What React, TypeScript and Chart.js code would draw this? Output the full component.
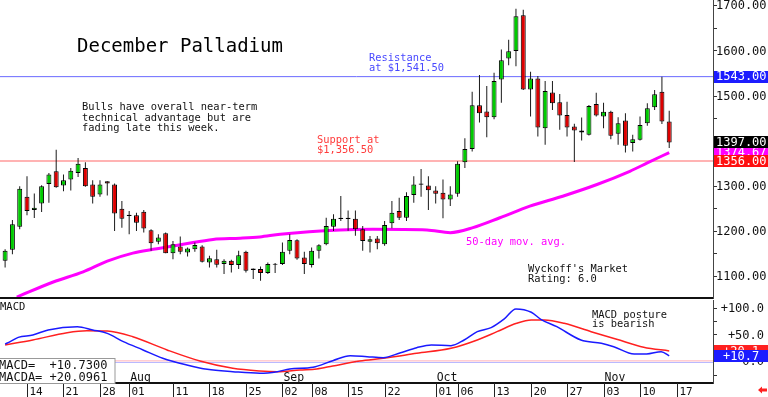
import React, { useEffect, useRef } from 'react';
import { Chart, registerables } from 'chart.js';
Chart.register(...registerables);

// ---- Daily OHLC, December Palladium (Jul 9 .. Nov 14) ----
const opens = [1134.5,1158.8,1210.3,1276.4,1247,1261.7,1305.1,1333,1301.4,1314.7,1329.4,1340.4,1303.6,1281.6,1311,1303.6,1250,1236.8,1235.3,1243.4,1202.2,1176.5,1195.6,1151.5,1166.2,1152.9,1160.3,1166.2,1130.9,1138.2,1127.2,1134.6,1125,1154.4,1113.9,1116.2,1107.3,1126,1127.2,1156.6,1180.1,1141.9,1125,1156.6,1171.3,1210.3,1230,1230,1228,1204.4,1176.5,1183.8,1171.4,1217.7,1244.9,1230.2,1280.2,1306,1301.5,1290.5,1285.3,1270.6,1283.1,1353,1382.4,1479.4,1465.5,1453,1536.8,1583.1,1600,1679.4,1514.7,1539,1428.7,1508.1,1486.1,1458.1,1432.4,1423.6,1414,1482.4,1454.4,1465.4,1416.2,1445.6,1395.6,1402.9,1439.7,1475,1509.5,1443.4];
const highs = [1160.3,1225,1300,1322,1283.8,1302.2,1329.4,1380.8,1325.7,1340.4,1362.5,1352.9,1313.2,1313.2,1311,1305.8,1266.9,1244.8,1241.2,1247.1,1204.4,1193.4,1197.1,1178.7,1188.2,1164,1175,1169.1,1145.6,1158.8,1138.2,1136.8,1156.6,1156.6,1117.6,1122,1130.9,1129.4,1175,1193.4,1182.3,1154.4,1163.9,1171.3,1230.1,1237.5,1278,1246,1246,1211.8,1189.8,1189.8,1222.8,1266.9,1274.3,1286.8,1322.1,1338.3,1322.1,1300,1314.8,1300,1355.2,1406.6,1509.6,1546.4,1522.1,1551.5,1603,1625,1693.4,1691.2,1553.7,1544.2,1533.1,1533.1,1504.4,1487.5,1438.3,1452.2,1480.2,1507.4,1485.3,1467.6,1452.9,1461.8,1414,1454.4,1483.8,1513.2,1542.6,1467.6];
const lows = [1119.8,1149.2,1204.4,1235.3,1229.4,1242.6,1263.2,1296.3,1288.9,1290.4,1320.5,1298.5,1261.7,1276.4,1279.4,1200.7,1208.1,1193.4,1200.7,1197.1,1156.6,1171.3,1151.5,1138.2,1149.3,1144.1,1154.4,1130.9,1119.8,1119.8,1105.1,1108.8,1116.2,1108.8,1094.1,1090.4,1105.1,1107.3,1125,1149.2,1136.7,1105.1,1119.8,1139.7,1169.1,1200.7,1223,1201,1190,1156.7,1153,1160.3,1167.7,1206.6,1225,1222.8,1263.3,1276.5,1247.1,1261.8,1228.7,1255.9,1276.5,1340.5,1377.2,1441.2,1408.8,1448.6,1485.3,1568.4,1566.2,1513.3,1454.4,1410.3,1391.9,1469.2,1425,1410.3,1353.7,1401.5,1412.5,1454.4,1428.7,1404.4,1391.9,1375,1377.2,1401.5,1433.8,1469.1,1438.2,1384.5];
const closes = [1156.6,1215.4,1294.1,1244.8,1252.2,1300,1325.7,1297.8,1313.2,1334.5,1350,1300,1276.4,1303.6,1305.8,1239.7,1227.9,1233.8,1219.1,1205.9,1173.5,1186,1151.5,1171.3,1154.4,1161.8,1169.8,1132.3,1140.4,1125.7,1134.6,1125,1147,1112.5,1117.6,1107.3,1127.2,1128,1154.4,1180.9,1139.7,1127.2,1156.6,1169.1,1211.7,1227.9,1227,1227,1204.4,1178.7,1182.4,1173.6,1214,1241.2,1230.2,1278,1303.7,1303,1291.2,1283.1,1270.6,1281.6,1350,1382.4,1479.4,1461.8,1453,1533.1,1579.4,1599.3,1677.2,1514.7,1539,1430.2,1511.1,1483.9,1456.7,1430.2,1423.6,1419.2,1478,1456.7,1465.4,1411.8,1439.7,1389.7,1404.4,1436,1472.8,1503.7,1443.4,1397];

// ---- 50-day moving average (trading-day index, value) ----
const maIdx = [1.6,6.6,10.7,14.0,17.5,20.3,24.4,28.5,32.2,34.9,37.7,45.9,50.4,57.8,61.0,64.1,67.8,71.9,76.4,81.1,85.6,88.0,91];
const maVal = [1054,1087.5,1110,1133.8,1151.5,1160,1171,1182,1184.5,1187.4,1193.4,1203,1204.4,1203,1197,1208,1230,1255.8,1277.8,1303.7,1333,1351.5,1374.67];

// ---- MACD (blue) and MACD average (red) ----
const macdIdx = [0,0.7,1.8,3.8,5.9,9.9,12,14,16.2,18.9,21.6,24.9,27.7,31.2,34.9,37.3,39,42.2,44.9,47.3,49.6,51.8,54.2,56.4,58.4,61.1,62.9,64.7,66.6,68.4,70,72.1,73.4,75.6,78.9,81.7,83.4,86.2,87.9,89.9,91];
const macdVal = [33,37.5,45.6,50,59.4,65.5,59.4,53,37.5,22,6.4,-6.2,-14.3,-18.7,-21.7,-18.7,-13.7,-10.5,1.9,11.2,9.4,7.5,16.9,26.2,31.3,30,40.6,56.2,63.7,80,98.7,92.5,79.4,65.5,40.6,34.5,28.1,14.4,14.4,18.7,10.73];
const sigIdx = [0,3.8,8.5,11.2,14,17.5,22.2,26.7,31.2,34.9,37.3,40.4,42.7,44.9,48.6,51.8,56.4,61.1,64.7,67.4,70.1,72.1,73.9,76.6,80.3,83.8,87.5,91];
const sigVal = [31.3,40.6,54.3,58,57.5,46.8,22,1.3,-12.4,-17.4,-18.7,-15.5,-13.7,-8,1.3,6.4,15.7,25,40.6,56.2,71.9,78,78,71.9,56.2,41.9,27,20.1];

// ---- axes / labels ----
const priceTicks = [1100,1200,1300,1400,1500,1600,1700];
const macdTicks = [100,50,0];
const macdTickLabels = ['+100.0','+50.0','0.0'];
const dateIdx = [3,8,13,17,23,28,33,38,42,47,52,59,62,67,72,77,82,87,92];
const dateLabels = ['14','21','28','01','11','18','25','02','08','15','22','01','06','13','20','27','03','10','17'];
const monthIdx = [17,38,59,82];
const monthLabels = ['Aug','Sep','Oct','Nov'];

const resistance = 1543;
const support = 1356;
const lastClose = 1397;
const lastMA = 1374.67;
const lastMacd = 10.73;
const lastSignal = 20.0961;
const zeroLines = [1.5, -1.5];

const X_MIN = -0.7;
const X_MAX = 97;
const MONO = '"DejaVu Sans Mono", monospace';
const AXIS_W = 55;

function valueBox(ctx: CanvasRenderingContext2D, ca: any, y: number, color: string, text: string, W: number) {
  ctx.fillStyle = color;
  ctx.fillRect(ca.right + 1, Math.round(y - 6), W - ca.right - 1, 12);
  ctx.fillStyle = '#fff';
  ctx.font = '12px ' + MONO;
  ctx.textBaseline = 'middle';
  ctx.textAlign = 'left';
  ctx.fillText(text, ca.right + 3, y + 0.5);
}

export default function App() {
  const refA = useRef<HTMLCanvasElement>(null);
  const refB = useRef<HTMLCanvasElement>(null);

  useEffect(() => {
    const bodies = opens.map((o, i) => ({ x: i, y: [o, closes[i]] }));
    const wicks = lows.map((l, i) => ({ x: i, y: [l, highs[i]] }));
    const bodyColors = opens.map((o, i) => (closes[i] >= o ? '#00cc00' : '#dd0000'));
    const ma = maIdx.map((x, i) => ({ x, y: maVal[i] }));

    const mainPlugin = {
      id: 'mainDecor',
      afterDraw(chart: any) {
        const ctx = chart.ctx as CanvasRenderingContext2D;
        const ca = chart.chartArea;
        const ys = chart.scales.y;
        const W = chart.width;
        ctx.save();
        // bottom border
        ctx.strokeStyle = '#111';
        ctx.lineWidth = 2;
        ctx.beginPath();
        ctx.moveTo(0, ca.bottom);
        ctx.lineTo(ca.right, ca.bottom);
        ctx.stroke();
        // price labels
        ctx.fillStyle = '#111';
        ctx.font = '12px ' + MONO;
        ctx.textAlign = 'left';
        ctx.textBaseline = 'middle';
        priceTicks.forEach((v) => ctx.fillText(v.toFixed(2), ca.right + 3, ys.getPixelForValue(v) + 0.5));
        // value boxes
        valueBox(ctx, ca, ys.getPixelForValue(resistance), '#1c1cff', resistance.toFixed(2), W);
        valueBox(ctx, ca, ys.getPixelForValue(lastMA), '#ff00ff', lastMA.toFixed(2), W);
        valueBox(ctx, ca, ys.getPixelForValue(lastClose), '#000000', lastClose.toFixed(2), W);
        valueBox(ctx, ca, ys.getPixelForValue(support), '#ff1010', support.toFixed(2), W);
        // title
        ctx.textBaseline = 'alphabetic';
        ctx.fillStyle = '#000';
        ctx.font = '19px ' + MONO;
        ctx.fillText('December Palladium', 77, 52);
        // notes
        ctx.font = '10.4px ' + MONO;
        ctx.fillStyle = '#111';
        ctx.fillText('Bulls have overall near-term', 82, 110);
        ctx.fillText('technical advantage but are', 82, 120.5);
        ctx.fillText('fading late this week.', 82, 131);
        ctx.fillStyle = '#4848ff';
        ctx.fillText('Resistance', 369, 61);
        ctx.fillText('at $1,541.50', 369, 71.3);
        ctx.fillStyle = '#ff3b3b';
        ctx.fillText('Support at', 317, 142.7);
        ctx.fillText('$1,356.50', 317, 152.7);
        ctx.fillStyle = '#ff00ff';
        ctx.fillText('50-day mov. avg.', 466, 245);
        ctx.fillStyle = '#111';
        ctx.fillText("Wyckoff's Market", 528, 271.7);
        ctx.fillText('Rating: 6.0', 528, 282.3);
        ctx.restore();
      },
    };

    const a = new Chart(refA.current!, {
      type: 'bar',
      data: {
        datasets: [
          {
            type: 'bar',
            data: bodies as any,
            backgroundColor: bodyColors,
            borderColor: '#000',
            borderWidth: 1,
            borderSkipped: false,
            grouped: false,
            categoryPercentage: 1,
            barPercentage: 0.68,
            order: 1,
          } as any,
          {
            type: 'bar',
            data: wicks as any,
            backgroundColor: '#1a1a1a',
            borderWidth: 0,
            grouped: false,
            categoryPercentage: 1,
            barPercentage: 0.3,
            maxBarThickness: 1,
            order: 2,
          } as any,
          {
            type: 'line',
            data: ma as any,
            borderColor: '#ff00ff',
            borderWidth: 3,
            pointRadius: 0,
            cubicInterpolationMode: 'monotone',
            order: 3,
          } as any,
          {
            type: 'line',
            data: [{ x: X_MIN, y: resistance }, { x: X_MAX, y: resistance }] as any,
            borderColor: '#6a6aff',
            borderWidth: 1,
            pointRadius: 0,
            order: 4,
          } as any,
          {
            type: 'line',
            data: [{ x: X_MIN, y: support }, { x: X_MAX, y: support }] as any,
            borderColor: '#ff9a9a',
            borderWidth: 1.5,
            pointRadius: 0,
            order: 5,
          } as any,
        ],
      },
      options: {
        responsive: false,
        animation: false,
        layout: { padding: { left: 0, right: 0, top: 0, bottom: 2 } },
        plugins: { legend: { display: false }, tooltip: { enabled: false } },
        scales: {
          x: { type: 'linear', min: X_MIN, max: X_MAX, display: false, offset: false, grid: { offset: false } } as any,
          y: {
            position: 'right',
            min: 1052,
            max: 1713,
            grid: { drawOnChartArea: false, drawTicks: true, tickLength: 4, color: '#333' },
            border: { display: true, color: '#444', width: 1 },
            ticks: { display: false, stepSize: 50, includeBounds: false },
            afterFit: (s: any) => { s.width = AXIS_W; },
          } as any,
        },
      },
      plugins: [mainPlugin],
    } as any);

    const macdPts = macdIdx.map((x, i) => ({ x, y: macdVal[i] }));
    const sigPts = sigIdx.map((x, i) => ({ x, y: sigVal[i] }));

    const macdPlugin = {
      id: 'macdDecor',
      afterDraw(chart: any) {
        const ctx = chart.ctx as CanvasRenderingContext2D;
        const ca = chart.chartArea;
        const ys = chart.scales.y;
        const xs = chart.scales.x;
        const W = chart.width;
        const H = chart.height;
        ctx.save();
        // bottom border
        ctx.strokeStyle = '#111';
        ctx.lineWidth = 2;
        ctx.beginPath();
        ctx.moveTo(0, ca.bottom);
        ctx.lineTo(ca.right, ca.bottom);
        ctx.stroke();
        // date ticks
        ctx.lineWidth = 1;
        ctx.strokeStyle = '#222';
        ctx.fillStyle = '#111';
        ctx.font = '11px ' + MONO;
        ctx.textAlign = 'left';
        ctx.textBaseline = 'alphabetic';
        dateIdx.forEach((d, i) => {
          const px = Math.round(xs.getPixelForValue(d)) + 0.5;
          ctx.beginPath();
          ctx.moveTo(px, ca.bottom);
          ctx.lineTo(px, H);
          ctx.stroke();
          ctx.fillText(dateLabels[i], px + 2, H - 2);
        });
        ctx.font = '11.5px ' + MONO;
        monthIdx.forEach((d, i) => {
          const px = xs.getPixelForValue(d);
          ctx.fillText(monthLabels[i], px + 1, ca.bottom - 2);
        });
        // y labels
        ctx.font = '12px ' + MONO;
        ctx.textAlign = 'right';
        ctx.textBaseline = 'middle';
        macdTicks.forEach((v, i) => ctx.fillText(macdTickLabels[i], W - 4, ys.getPixelForValue(v) + 0.5));
        // value boxes
        const box = (v: number, color: string, text: string) => {
          const y = ys.getPixelForValue(v);
          ctx.fillStyle = color;
          ctx.fillRect(ca.right + 1, Math.round(y - 6), W - ca.right - 1, 12);
          ctx.fillStyle = '#fff';
          ctx.textAlign = 'left';
          ctx.fillText(text, ca.right + 10, y + 0.5);
        };
        box(lastSignal, '#ff2020', '+' + lastSignal.toFixed(1));
        box(lastMacd, '#1c1cff', '+' + lastMacd.toFixed(1));
        // MACD title
        ctx.fillStyle = '#111';
        ctx.textBaseline = 'alphabetic';
        ctx.font = '10.5px ' + MONO;
        ctx.fillText('MACD', 0, 9.5);
        // note
        ctx.font = '10.4px ' + MONO;
        ctx.fillText('MACD posture', 592, 17.7);
        ctx.fillText('is bearish', 592, 27);
        // value readout box
        ctx.fillStyle = '#fff';
        ctx.fillRect(0, 58, 115, ca.bottom - 58);
        ctx.strokeStyle = '#999';
        ctx.lineWidth = 1;
        ctx.strokeRect(-1, 58.5, 116, ca.bottom - 58);
        ctx.fillStyle = '#111';
        ctx.font = '12px ' + MONO;
        ctx.fillText('MACD=  +' + lastMacd.toFixed(4), -1, 68.5);
        ctx.fillText('MACDA= +' + lastSignal.toFixed(4), -1, 81);
        // red arrow
        ctx.fillStyle = '#ff2020';
        ctx.beginPath();
        ctx.moveTo(758, 90);
        ctx.lineTo(762, 86.5);
        ctx.lineTo(762, 88.5);
        ctx.lineTo(767, 88.5);
        ctx.lineTo(767, 91.5);
        ctx.lineTo(762, 91.5);
        ctx.lineTo(762, 93.5);
        ctx.closePath();
        ctx.fill();
        ctx.restore();
      },
    };

    const b = new Chart(refB.current!, {
      type: 'line',
      data: {
        datasets: [
          {
            data: macdPts as any,
            borderColor: '#1a1aff',
            borderWidth: 1.5,
            pointRadius: 0,
            cubicInterpolationMode: 'monotone',
            order: 1,
          } as any,
          {
            data: sigPts as any,
            borderColor: '#ff2020',
            borderWidth: 1.5,
            pointRadius: 0,
            cubicInterpolationMode: 'monotone',
            order: 2,
          } as any,
          {
            data: [{ x: X_MIN, y: zeroLines[0] }, { x: X_MAX, y: zeroLines[0] }] as any,
            borderColor: '#ffb0b8',
            borderWidth: 1,
            pointRadius: 0,
            order: 3,
          } as any,
          {
            data: [{ x: X_MIN, y: zeroLines[1] }, { x: X_MAX, y: zeroLines[1] }] as any,
            borderColor: '#b8b8ff',
            borderWidth: 1,
            pointRadius: 0,
            order: 4,
          } as any,
        ],
      },
      options: {
        responsive: false,
        animation: false,
        layout: { padding: { left: 0, right: 0, top: 0, bottom: 14 } },
        plugins: { legend: { display: false }, tooltip: { enabled: false } },
        scales: {
          x: { type: 'linear', min: X_MIN, max: X_MAX, display: false, offset: false } as any,
          y: {
            position: 'right',
            min: -39.9,
            max: 115.5,
            grid: { drawOnChartArea: false, drawTicks: true, tickLength: 4, color: '#333' },
            border: { display: true, color: '#444', width: 1 },
            ticks: { display: false, stepSize: 25, includeBounds: false },
            afterFit: (s: any) => { s.width = AXIS_W; },
          } as any,
        },
      },
      plugins: [macdPlugin],
    } as any);

    return () => {
      a.destroy();
      b.destroy();
    };
  }, []);

  return (
    <div style={{ position: 'fixed', left: 0, top: 0, width: 768, height: 397, background: '#fff', overflow: 'hidden' }}>
      <canvas ref={refA} width={768} height={300} style={{ position: 'absolute', left: 0, top: 0 }} />
      <canvas ref={refB} width={768} height={97} style={{ position: 'absolute', left: 0, top: 300 }} />
    </div>
  );
}
